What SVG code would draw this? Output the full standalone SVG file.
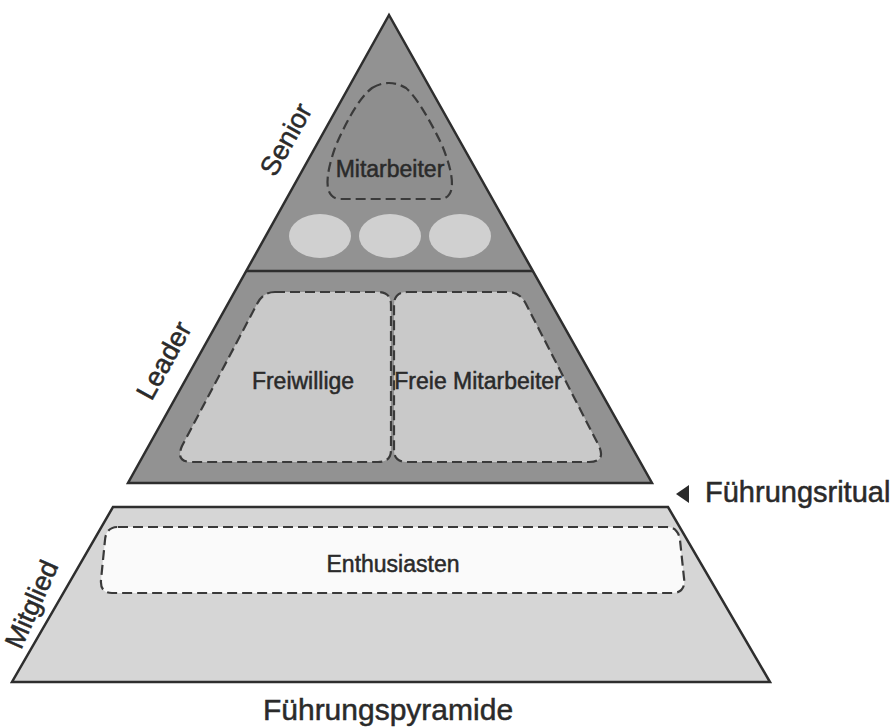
<svg xmlns="http://www.w3.org/2000/svg" width="896" height="728" viewBox="0 0 896 728">
<style>
.shape{stroke:#2e2e2e;stroke-width:2.5;stroke-linejoin:miter}
.dash{fill:#c9c9c9;stroke:#3a3a3a;stroke-width:2.2;stroke-dasharray:10 5}
.t{font-family:"Liberation Sans",Arial,sans-serif;fill:#2a2a2a;stroke:#2a2a2a;stroke-width:0.5}
.lbl{font-size:23px;text-anchor:middle}
.side{font-size:27px;text-anchor:middle}
</style>
<rect width="896" height="728" fill="#ffffff"/>
<g id="top-pyramid">
<polygon class="shape" points="389,15 128,483 652,483" fill="#929292"/>
<line x1="246" y1="271" x2="533" y2="271" stroke="#2e2e2e" stroke-width="2.5"/>
</g>
<g id="mitarbeiter">
<path class="dash" style="fill:#8e8e8e" d="M372,88 Q389,78 406,88 Q420,100 442,145 Q462,195 442,199 L338,199 Q318,195 336,145 Q356,100 372,88 Z"/>
<text class="t lbl" x="390" y="177">Mitarbeiter</text>
</g>
<g id="circles">
<ellipse cx="320" cy="236" rx="31" ry="22" fill="#d0d0d0"/>
<ellipse cx="390" cy="236" rx="31" ry="22" fill="#d0d0d0"/>
<ellipse cx="460" cy="236" rx="31" ry="22" fill="#d0d0d0"/>
</g>
<g id="freiwillige">
<path class="dash" d="M275,292 L378,292 Q391,292 391,305 L391,450 Q391,462 378,462 L192,462 Q175,462 182,446 L257,304 Q263,292 275,292 Z"/>
<text class="t lbl" x="303" y="389">Freiwillige</text>
</g>
<g id="freie-mitarbeiter">
<path class="dash" d="M407,292 L508,292 Q520,292 526,304 L599,446 Q606,462 589,462 L407,462 Q394,462 394,450 L394,305 Q394,292 407,292 Z"/>
<text class="t lbl" x="478" y="389">Freie Mitarbeiter</text>
</g>
<g id="bottom">
<polygon class="shape" points="113,507 668,507 770,682 12,682" fill="#d6d6d6"/>
</g>
<g id="enthusiasten">
<path class="dash" style="fill:#fafafa" d="M118,527 L667,527 Q678,527 680,540 L684,578 Q686,593 672,593 L112,593 Q100,593 101,580 L105,540 Q106,527 118,527 Z"/>
<text class="t lbl" x="393" y="572">Enthusiasten</text>
</g>
<g id="labels">
<text class="t side" transform="translate(294,144) rotate(-61)">Senior</text>
<text class="t side" transform="translate(172,365) rotate(-61)">Leader</text>
<text class="t side" transform="translate(40,608) rotate(-66)">Mitglied</text>
</g>
<g id="ritual">
<polygon points="676,494 689,485 689,503" fill="#2a2a2a"/>
<text class="t" x="705" y="502" font-size="29">Führungsritual</text>
</g>
<text class="t" x="388" y="720" font-size="30" text-anchor="middle">Führungspyramide</text>
</svg>
